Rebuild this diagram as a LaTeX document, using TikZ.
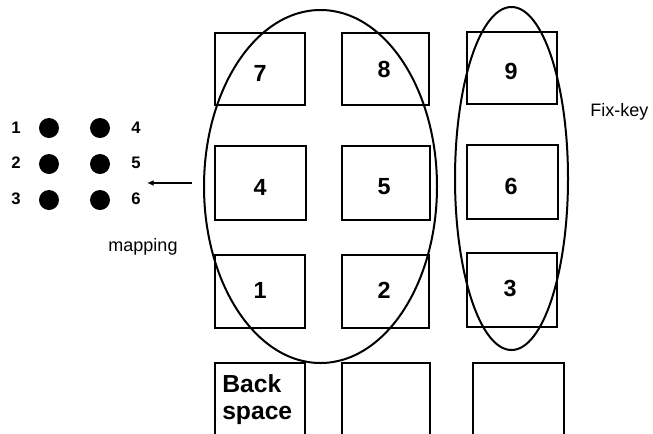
\documentclass[tikz,border=0pt]{standalone}
\usepackage{fontspec}
\setmainfont{Liberation Sans}
\usetikzlibrary{arrows.meta}
\begin{document}
\begin{tikzpicture}[x=0.75pt,y=-0.75pt,
  key/.style={draw,line width=1.6pt},
  keynum/.style={font=\bfseries\fontsize{17.5}{20}\selectfont,inner sep=0pt},
  dotlabel/.style={font=\bfseries\fontsize{12.5}{14}\selectfont,inner sep=0pt},
  dot/.style={circle,fill=black,minimum size=15pt,inner sep=0pt},
  group/.style={draw,line width=1.5pt},
  note/.style={font=\fontsize{13.5}{16}\selectfont,inner sep=0pt}]
\useasboundingbox (0,0) rectangle (653,433);
\clip (0,0) rectangle (653,433);

% key pad: three columns of keys
\draw[key] (215,33) rectangle (305,105) coordinate (k7);
\draw[key] (342,33) rectangle (429,105) coordinate (k8);
\draw[key] (467,32) rectangle (557,104) coordinate (k9);
\draw[key] (215,146) rectangle (306,220) coordinate (k4);
\draw[key] (342,146) rectangle (430,220) coordinate (k5);
\draw[key] (467,145) rectangle (558,219) coordinate (k6);
\draw[key] (215,255) rectangle (305,328) coordinate (k1);
\draw[key] (342,255) rectangle (429,328) coordinate (k2);
\draw[key] (467,253) rectangle (557,327) coordinate (k3);
\draw[key] (215,363) rectangle (305,445) coordinate (kbs);
\draw[key] (342,363) rectangle (430,445) coordinate (kb2);
\draw[key] (473,363) rectangle (564,445) coordinate (kb3);

\node[keynum] (n7) at (260,73) {7};
\node[keynum] (n8) at (384,69) {8};
\node[keynum] (n9) at (511,71) {9};
\node[keynum] (n4) at (260,187) {4};
\node[keynum] (n5) at (384,187) {5};
\node[keynum] (n6) at (511,186) {6};
\node[keynum] (n1) at (260,290) {1};
\node[keynum] (n2) at (384,290) {2};
\node[keynum] (n3) at (510,288) {3};
\node[anchor=north west,inner sep=0pt,align=left,
      font=\bfseries\fontsize{18.5}{20.5}\selectfont] (bs) at (222,374) {Back\\space};

% groupings of the keys
\draw[group] (320.5,186.5) ellipse [x radius=116.5,y radius=176.5];
\draw[group] (511.5,178.5) ellipse [x radius=56.5,y radius=171.5];
\node[note,anchor=west] (fix) at (590,112) {Fix-key};

% six-dot braille cell
\node[dot] (d1) at (49,128) {};
\node[dot] (d2) at (49,164) {};
\node[dot] (d3) at (49,200) {};
\node[dot] (d4) at (100,128) {};
\node[dot] (d5) at (100,164) {};
\node[dot] (d6) at (100,200) {};
\node[dotlabel] (l1) at (16,128) {1};
\node[dotlabel] (l2) at (16,163) {2};
\node[dotlabel] (l3) at (16,199) {3};
\node[dotlabel] (l4) at (136,128) {4};
\node[dotlabel] (l5) at (136,163) {5};
\node[dotlabel] (l6) at (136,199) {6};

\coordinate (astart) at (192,183);
\coordinate (aend) at (147,183);
\draw[line width=1.4pt,-{Latex[length=5pt,width=4.5pt]}] (astart) -- (aend);
\node[note] (map) at (143,247) {mapping};
\end{tikzpicture}
\end{document}
